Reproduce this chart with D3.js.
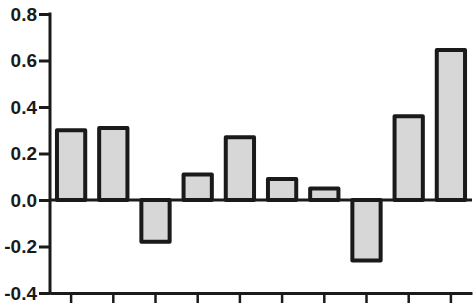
<!DOCTYPE html>
<html>
<head>
<meta charset="utf-8">
<script src="https://cdn.jsdelivr.net/npm/d3@7"></script>
<style>
	body { margin: 0; background: #fff; }
	.yAxis text { font-family: "Liberation Sans", Arial, sans-serif; font-weight: bold; font-size: 19px; fill: #1a1a1a; }
</style>
</head>
<body>
<script>
	// data
	var groups = ['g1', 'g2', 'g3', 'g4', 'g5', 'g6', 'g7', 'g8', 'g9', 'g10'];
	var values = [0.30, 0.31, -0.18, 0.11, 0.27, 0.09, 0.05, -0.26, 0.36, 0.645];
	var yTicks = [-0.4, -0.2, 0.0, 0.2, 0.4, 0.6, 0.8];

	var w = 476, h = 307;
	var svg = d3.select('body').append('svg').attr('width', w).attr('height', h);

	var x = d3.scaleBand().domain(groups).range([50, 472]).paddingInner(0.33).paddingOuter(0.165);
	var y = d3.scaleLinear().domain([-0.4, 0.8]).range([293, 14]);

	//bars
	svg.append('g').selectAll('rect').data(values).enter().append('rect')
		.attr('x', function(d, i) { return x(groups[i]); })
		.attr('y', function(d) { return y(Math.max(0, d)); })
		.attr('width', x.bandwidth())
		.attr('height', function(d) { return Math.abs(y(d) - y(0)); })
		.attr('fill', '#d7d7d7')
		.attr('stroke', '#1a1a1a')
		.attr('stroke-width', 4)
		.attr('stroke-linejoin', 'round');

	//zero line
	svg.append('line').attr('x1', 50).attr('x2', 472).attr('y1', y(0)).attr('y2', y(0))
		.attr('stroke', '#1a1a1a').attr('stroke-width', 3);

	//y axis
	var yAxis = d3.axisLeft(y).tickValues(yTicks).tickSize(11).tickSizeOuter(0).tickPadding(2)
		.tickFormat(function(d) { return (d < 0 ? '-' : '') + Math.abs(d).toFixed(1); });
	var gy = svg.append('g').attr('class', 'yAxis').attr('transform', 'translate(50,0)').call(yAxis);
	gy.selectAll('path, line').attr('stroke', '#1a1a1a').attr('stroke-width', 3);
	gy.select('.domain').attr('d', 'M0,' + (y(0.8) - 1.5) + 'V' + (y(-0.4) + 1.5));

	//x axis, ticks only
	var xAxis = d3.axisBottom(x).tickSize(10).tickSizeOuter(0).tickFormat('');
	var gx = svg.append('g').attr('transform', 'translate(0,' + y(-0.4) + ')').call(xAxis);
	gx.selectAll('path, line').attr('stroke', '#1a1a1a').attr('stroke-width', 3);
	gx.selectAll('.tick line').attr('stroke-width', 2.5);
</script>
</body>
</html>
